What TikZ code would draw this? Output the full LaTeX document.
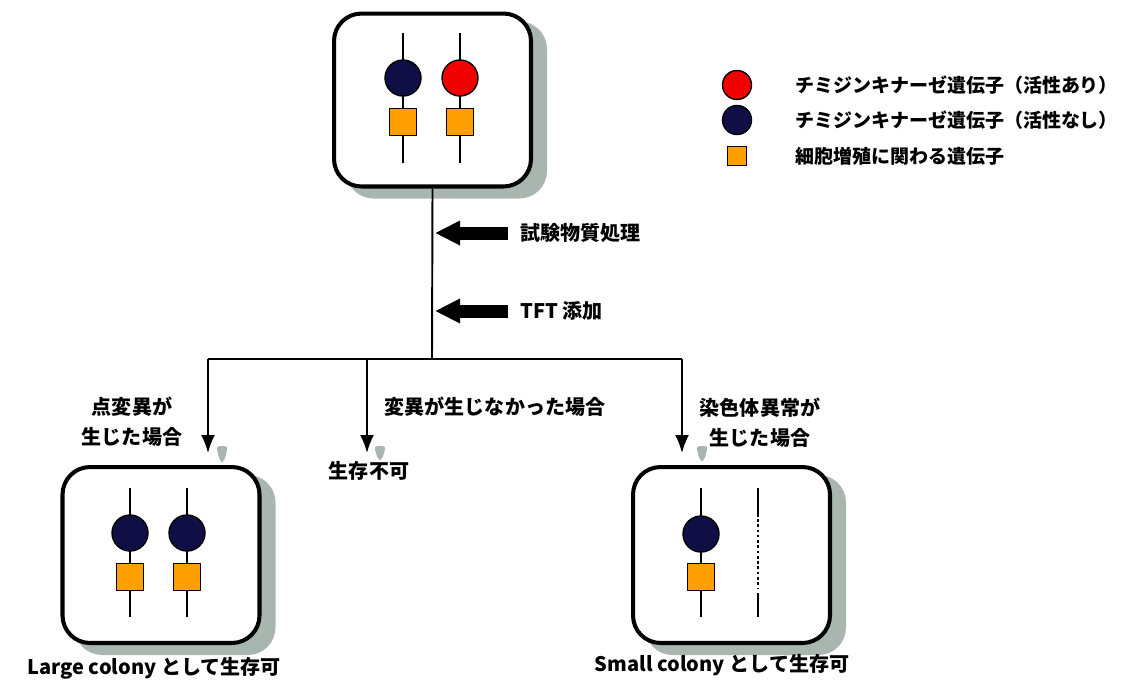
\documentclass[tikz,border=0pt]{standalone}
\usepackage{fontspec}
\setmainfont{Noto Sans CJK JP}
\usetikzlibrary{arrows.meta,backgrounds}

\definecolor{tkactive}{RGB}{240,0,0}
\definecolor{tkinactive}{RGB}{15,15,70}
\definecolor{growthorange}{RGB}{255,160,0}
\definecolor{shadowgray}{RGB}{168,182,175}

\begin{document}
\begin{tikzpicture}[x=0.02cm, y=-0.02cm,
	cell/.style={draw=black, line width=2.3pt, fill=white, rounded corners=0.55cm, minimum width=3.94cm, minimum height=3.46cm},
	cellshadow/.style={fill=shadowgray, rounded corners=0.55cm},
	gene/.style={draw=black, line width=0.8pt, circle, minimum size=0.72cm, inner sep=0pt},
	growth/.style={draw=black, line width=0.8pt, fill=growthorange, minimum size=0.54cm, inner sep=0pt},
	label/.style={font=\bfseries\fontsize{11.4}{17}\selectfont, align=center, inner sep=0pt},
	legendtext/.style={font=\bfseries\fontsize{10.8}{13}\selectfont, anchor=west, inner sep=0pt},
	chrom/.style={line width=1.3pt},
	flow/.style={line width=1.1pt, -{Latex[length=0.36cm, width=0.28cm]}},
	treat/.style={line width=0.26cm, -{Triangle[length=0.5cm, width=0.46cm]}},
	tipshadow/.style={fill=shadowgray, rounded corners=2pt}]
	\useasboundingbox (0,0) rectangle (1122,680);

	% cells
	\node[cell] (parent) at (432.5,100) {};
	\node[cell, minimum height=3.52cm] (large) at (161,555) {};
	\node[cell, minimum height=3.52cm] (small) at (731.5,555) {};
	\begin{scope}[on background layer]
		\foreach \c in {parent, large, small}
			\fill[cellshadow] ([shift={(14,10)}]\c.south west) rectangle ([shift={(14,10)}]\c.north east);
		\fill[tipshadow] (216,446) -- (228,446) -- (224,462) -- (220,462) -- cycle;
		\fill[tipshadow] (374,446) -- (386,446) -- (382,460) -- (378,460) -- cycle;
		\fill[tipshadow] (696,446) -- (708,446) -- (704,461) -- (700,461) -- cycle;
	\end{scope}

	% chromosomes of the parent cell
	\foreach \x/\col in {403/tkinactive, 460/tkactive} {
		\draw[chrom] (\x,33) -- (\x,163);
		\node[gene, fill=\col] (ptk\x) at (\x,78) {};
		\node[growth] (pgr\x) at (\x,122) {};
	}
	% point mutation
	\foreach \x in {130, 187} {
		\draw[chrom] (\x,488) -- (\x,617);
		\node[gene, fill=tkinactive] (ltk\x) at (\x,533) {};
		\node[growth] (lgr\x) at (\x,577) {};
	}
	% chromosome aberration
	\draw[chrom] (701,488) -- (701,617);
	\node[gene, fill=tkinactive] (stk) at (701,534) {};
	\node[growth] (sgr) at (701,577) {};
	\draw[chrom] (758,488) -- (758,517);
	\draw[chrom, line width=1.6pt, dash pattern=on 1.5pt off 1.5pt] (758,519) -- (758,589);
	\draw[chrom] (758,593) -- (758,617);

	% legend
	\node[gene, fill=tkactive, minimum size=0.58cm] (keyact) at (737,85) {};
	\node[gene, fill=tkinactive, minimum size=0.58cm] (keyinact) at (737,120) {};
	\node[growth, minimum size=0.38cm] (keygrowth) at (737,156) {};
	\node[legendtext] (keyacttext) at (795,85) {チミジンキナーゼ遺伝子（活性あり）};
	\node[legendtext] (keyinacttext) at (795,120) {チミジンキナーゼ遺伝子（活性なし）};
	\node[legendtext] (keygrowthtext) at (795,156) {細胞増殖に関わる遺伝子};

	% treatment
	\coordinate (split) at (432,359);
	\coordinate (treat1) at (435,233);
	\coordinate (treat2) at (435,311);
	\draw[line width=1.1pt] (parent.south) -- (split);
	\draw[treat] (508,233) -- (treat1);
	\draw[treat] (508,311) -- (treat2);
	\node[label, anchor=west] (chem) at (520,233) {試験物質処理};
	\node[label, anchor=west] (tft) at (520,311) {TFT 添加};

	% branches
	\coordinate (lsplit) at (208,359);
	\coordinate (rsplit) at (682,359);
	\coordinate (msplit) at (367,359);
	\coordinate (ltip) at (208,453);
	\coordinate (mtip) at (367,453);
	\coordinate (rtip) at (682,453);
	\draw[line width=1.1pt] (lsplit) -- (rsplit);
	\draw[flow] (lsplit) -- (ltip);
	\draw[flow] (msplit) -- (mtip);
	\draw[flow] (rsplit) -- (rtip);

	\node[label] (pointmut) at (132,422) {点変異が\\生じた場合};
	\node[label] (nomut) at (495,407) {変異が生じなかった場合};
	\node[label] (dead) at (369,471) {生存不可};
	\node[label] (chromab) at (760,423) {染色体異常が\\生じた場合};
	\node[label] (largetext) at (154,668) {Large colony として生存可};
	\node[label] (smalltext) at (722,665) {Small colony として生存可};
\end{tikzpicture}
\end{document}
